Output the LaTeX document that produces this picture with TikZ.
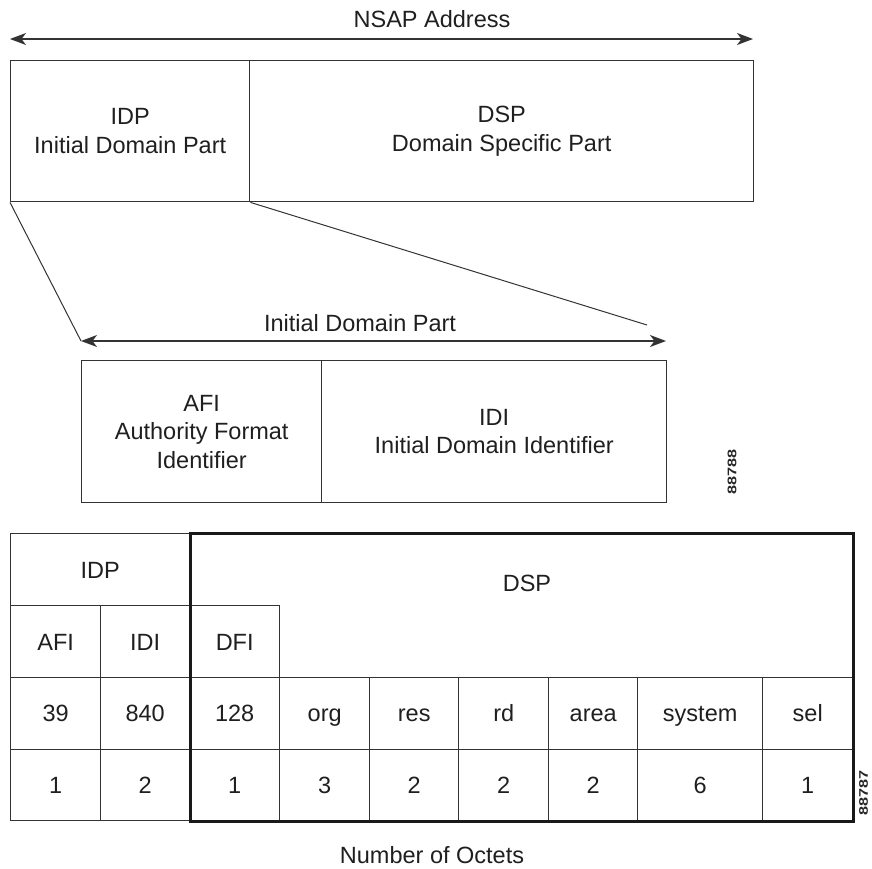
\documentclass[tikz,border=0pt]{standalone}
\usepackage{fontspec}
\usepackage{graphicx}
\setmainfont{Liberation Sans}
\usetikzlibrary{arrows.meta}
\newcommand{\figno}[1]{\scalebox{1.3}[1]{#1}}
\begin{document}
\begin{tikzpicture}[x=1bp, y=-1bp,
  rule/.style={draw=black!80, line width=1.4bp},
  tip/.tip={Stealth[length=16bp,width=12bp,inset=4.5bp]},
  dimline/.style={rule, tip-tip},
  txt/.style={inner sep=0pt, align=center, text=black!88,
    font=\fontsize{23.5bp}{28.5bp}\selectfont},
  box/.style={txt, rule, rectangle, anchor=north west},
  cell/.style={box, minimum height=72bp, text height=17bp, text depth=0pt},
  cellb/.style={cell, minimum height=71.5bp},
  tag/.style={inner sep=0pt, rotate=90, text=black!85,
    font=\fontsize{12.5bp}{12.5bp}\selectfont\bfseries},
  frame/.style={draw=black!90, line width=3bp, line join=miter}
]
\useasboundingbox (0,0) rectangle (872,869);

% ---------- NSAP address ----------
\coordinate (nsapL) at (10,39);
\coordinate (nsapR) at (753,39);
\draw[dimline] (nsapL) -- (nsapR);
\node[txt] (nsaplbl) at (432,19) {NSAP Address};

\node[box, minimum width=239bp, minimum height=141bp] (idp) at (10,60)
  {IDP\\Initial Domain Part};
\node[box, minimum width=504bp, minimum height=141bp] (dsp) at (249,60)
  {DSP\\Domain Specific Part};

% ---------- expansion of the IDP ----------
\coordinate (idpL) at (81,341);
\coordinate (idpR) at (666,341);
\coordinate (fanR) at (647,325);
\draw[rule, line width=1bp] (idp.south west) -- (idpL);
\draw[rule, line width=1bp] (idp.south east) -- (fanR);
\draw[dimline] (idpL) -- (idpR);
\node[txt] (idplbl) at (360,323) {Initial Domain Part};

\node[box, minimum width=240bp, minimum height=142bp] (afi) at (81,360)
  {AFI\\Authority Format\\Identifier};
\node[box, minimum width=345bp, minimum height=142bp] (idi) at (321,360)
  {IDI\\Initial Domain Identifier};
\node[tag] (fig1) at (732,472) {\figno{88788}};

% ---------- address layout table ----------
\node[cell, minimum width=179bp] (hidp) at (10,533) {IDP};
\node[txt, text height=17bp, text depth=0pt] (hdsp) at (527,582.5) {DSP};

\node[cell, minimum width=90bp] (tafi) at (10,605) {AFI};
\node[cell, minimum width=89bp] (tidi) at (100,605) {IDI};
\node[cell, minimum width=90bp] (tdfi) at (189,605) {DFI};

\node[cellb, minimum width=90bp]  (v39)  at (10,677)  {39};
\node[cellb, minimum width=89bp]  (v840) at (100,677) {840};
\node[cellb, minimum width=90bp]  (v128) at (189,677) {128};
\node[cellb, minimum width=90bp]  (vorg) at (279,677) {org};
\node[cellb, minimum width=89bp]  (vres) at (369,677) {res};
\node[cellb, minimum width=90bp]  (vrd)  at (458,677) {rd};
\node[cellb, minimum width=89bp]  (varea) at (548,677) {area};
\node[cellb, minimum width=125bp] (vsys) at (637,677) {system};
\node[cellb, minimum width=90bp]  (vsel) at (762,677) {sel};

\node[cellb, minimum width=90bp]  (n39)  at (10,748.5)  {1};
\node[cellb, minimum width=89bp]  (n840) at (100,748.5) {2};
\node[cellb, minimum width=90bp]  (n128) at (189,748.5) {1};
\node[cellb, minimum width=90bp]  (norg) at (279,748.5) {3};
\node[cellb, minimum width=89bp]  (nres) at (369,748.5) {2};
\node[cellb, minimum width=90bp]  (nrd)  at (458,748.5) {2};
\node[cellb, minimum width=89bp]  (narea) at (548,748.5) {2};
\node[cellb, minimum width=125bp] (nsys) at (637,748.5) {6};
\node[cellb, minimum width=90bp]  (nsel) at (762,748.5) {1};

% heavy outline round the DSP columns
\draw[frame] (hidp.north east) rectangle (nsel.south east);

\node[tag] (fig2) at (863.5,793) {\figno{88787}};
\node[txt] (octets) at (432,855) {Number of Octets};
\end{tikzpicture}
\end{document}
